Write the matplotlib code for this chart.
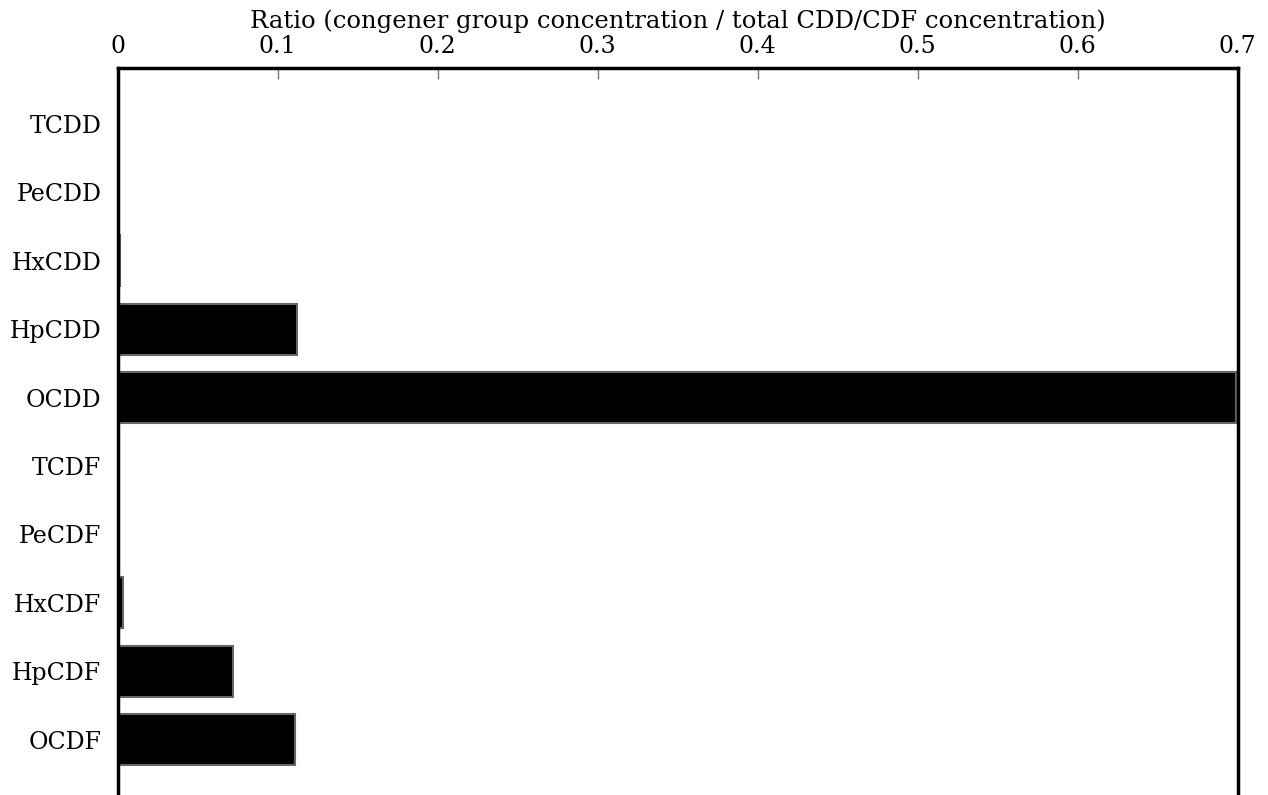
import matplotlib.pyplot as plt
import numpy as np

congeners = ['TCDD', 'PeCDD', 'HxCDD', 'HpCDD', 'OCDD',
             'TCDF', 'PeCDF', 'HxCDF', 'HpCDF', 'OCDF']
ratios = [0.0, 0.0, 0.0012, 0.112, 0.699,
          0.0, 0.0, 0.003, 0.0717, 0.111]
xticks = [0, 0.1, 0.2, 0.3, 0.4, 0.5, 0.6, 0.7]
xticklabels = ['0', '0.1', '0.2', '0.3', '0.4', '0.5', '0.6', '0.7']

plt.rcParams['font.family'] = ['DejaVu Serif']

fig = plt.figure(figsize=(12.68, 7.95), dpi=100)
ax = fig.add_axes([0.093, 0.0, 0.883, 0.9145])

pos = np.arange(len(congeners))
ax.barh(pos, ratios, height=0.75, color='black', edgecolor='#666666', linewidth=1.5)

ax.set_xlim(0, 0.7)
ax.set_ylim(9.81, -0.82)
ax.set_yticks(pos)
ax.set_yticklabels(congeners, fontsize=17)
ax.tick_params(axis='y', length=0, pad=12)

ax.xaxis.set_ticks_position('top')
ax.xaxis.set_label_position('top')
ax.set_xticks(xticks)
ax.set_xticklabels(xticklabels, fontsize=17)
ax.tick_params(axis='x', direction='in', length=8, width=1, color='#777777', pad=7)
ax.set_xlabel('Ratio (congener group concentration / total CDD/CDF concentration)',
              fontsize=17.5, labelpad=5)

for side in ['top', 'left', 'right']:
    ax.spines[side].set_linewidth(2.5)
ax.spines['bottom'].set_visible(False)

fig.savefig('out.png', dpi=100)
